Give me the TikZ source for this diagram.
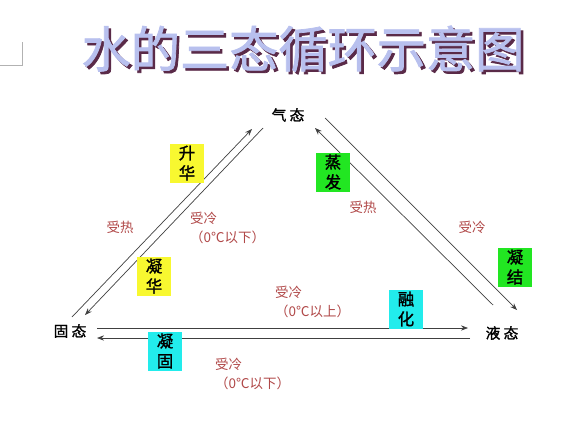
\documentclass[tikz,border=0pt]{standalone}
\usepackage{fontspec}
\usepackage{xcolor}
\usetikzlibrary{arrows.meta,positioning}
\newfontfamily\cjk{Noto Sans CJK SC}
\newfontfamily\cjkbold[FakeBold=1.5]{Noto Sans CJK SC}
\definecolor{hotred}{HTML}{B04848}
\definecolor{titleface}{HTML}{B8C0EE}
\definecolor{titleshade}{HTML}{5A2A48}
\definecolor{boxyellow}{HTML}{F8F830}
\definecolor{boxgreen}{HTML}{22E622}
\definecolor{boxcyan}{HTML}{22ECEC}
\definecolor{arrowgray}{HTML}{404040}
\newcommand{\titletext}{水的三态循环示意图}

\begin{document}
\begin{tikzpicture}[x=0.03cm,y=-0.03cm,
  state/.style={font=\cjkbold\fontsize{12.5}{14}\selectfont,inner sep=1pt},
  tag/.style={font=\cjk\fontsize{11.5}{16}\selectfont,text=hotred,inner sep=0pt,align=left},
  procbox/.style={font=\cjkbold\fontsize{14}{17}\selectfont,inner sep=0pt,align=center,
    minimum width=1.02cm,minimum height=1.17cm},
  flow/.style={draw=arrowgray,line width=0.6pt,-{Stealth[length=6pt,width=4.5pt]}}]
\useasboundingbox (0,0) rectangle (566,424);
% title with its shadow
\node[font=\cjkbold\fontsize{42}{42}\selectfont] (title) at (303,50)
  {\makebox[0pt][l]{\hspace{2.2pt}\raisebox{-2.2pt}{\textcolor{titleshade}{\titletext}}}\textcolor{titleface}{\titletext}};
\draw[gray!60] (0,65) -- (22,65) -- (22,42);

% the three states
\node[state] (gas) at (288,115) {气\ 态};
\node[state] (solid) at (70,331) {固\ 态};
\node[state] (liquid) at (502,333) {液\ 态};

% arrow ends
\coordinate (sg1) at (72,317);  \coordinate (sg2) at (252,129);
\coordinate (gs1) at (263,128); \coordinate (gs2) at (85,315);
\coordinate (lg1) at (493,305); \coordinate (lg2) at (315,128);
\coordinate (gl1) at (325,118); \coordinate (gl2) at (517,310);
\coordinate (sl1) at (97,328);  \coordinate (sl2) at (468,328);
\coordinate (ls1) at (470,338); \coordinate (ls2) at (97,338);
\draw[flow] (sg1) -- (sg2);
\draw[flow] (gs1) -- (gs2);
\draw[flow] (lg1) -- (lg2);
\draw[flow] (gl1) -- (gl2);
\draw[flow] (sl1) -- (sl2);
\draw[flow] (ls1) -- (ls2);

% process boxes
\node[procbox,fill=boxyellow] (sublim) at (187,163) {升\\华};
\node[procbox,fill=boxyellow] (desub) at (154,276) {凝\\华};
\node[procbox,fill=boxgreen] (evap) at (333,172) {蒸\\发};
\node[procbox,fill=boxgreen] (cond) at (515,267) {凝\\结};
\node[procbox,fill=boxcyan] (melt) at (406,309) {融\\化};
\node[procbox,fill=boxcyan] (freeze) at (165,351) {凝\\固};

% heat labels
\node[tag] (heatsg) at (120,227) {受热};
\node[tag,anchor=west] (coolgs) at (190,228) {受冷\\（0℃以下）};
\node[tag] (heatlg) at (363,207) {受热};
\node[tag] (coolgl) at (472,227) {受冷};
\node[tag,anchor=west] (coolsl) at (275,302) {受冷\\（0℃以上）};
\node[tag,anchor=west] (coolls) at (215,374) {受冷\\（0℃以下）};
\end{tikzpicture}
\end{document}
